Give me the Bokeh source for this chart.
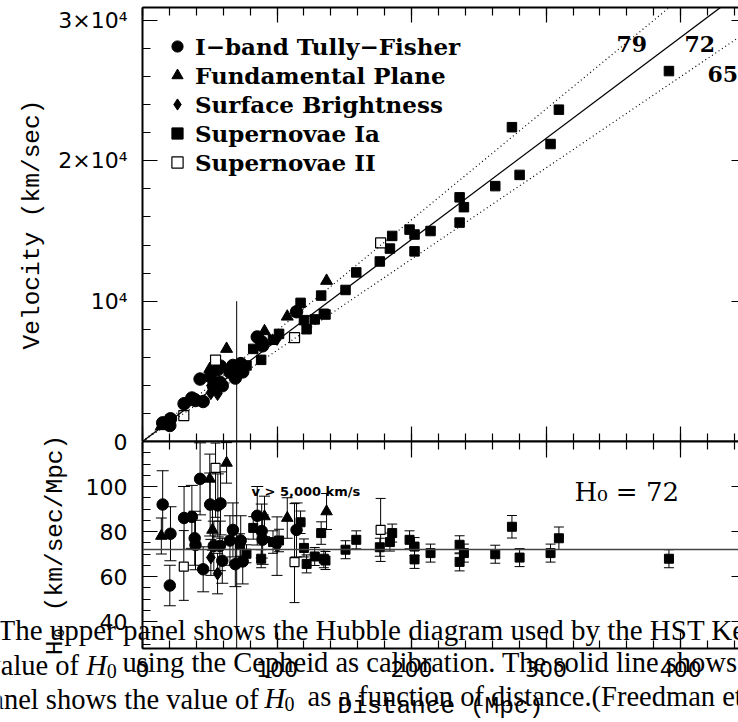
from bokeh.plotting import figure
from bokeh.models import (Range1d, FixedTicker, LinearAxis, Legend, LegendItem, Label,
                          Whisker, TeeHead, Span, Slope, ColumnDataSource, CustomLabelingPolicy)
from bokeh.layouts import column
from bokeh.embed import file_html
from bokeh.resources import INLINE

# ---------------- data ----------------
# I-band Tully-Fisher (circles)
tf_d = [15.0, 20.8, 20.3, 30.9, 36.7, 38.8, 39.4, 42.8, 45.1, 50.3, 56.0, 58.0,
        53.0, 57.5, 59.3, 67.2, 65.0, 69.0, 73.0, 74.5, 85.3, 88.6, 89.3, 114.5]
tf_v = [1330, 1620, 1140, 2690, 3100, 2990, 2920, 4450, 2850, 4620, 5140, 5370,
        3900, 4230, 3970, 5420, 4940, 4520, 5550, 4960, 7450, 7100, 6820, 9250]
tf_h0 = [92, 79, 56, 86, 86.5, 77, 74, 103.4, 63.2, 92, 91.6, 92.5,
         73.6, 73.6, 67, 80.7, 76, 65.5, 76, 66.7, 87, 80.2, 76.4, 80.7]
tf_err = [15, 12, 9, 14, 14, 12, 11, 16, 10, 14, 14, 14,
          11, 11, 10, 12, 11, 10, 11, 10, 13, 12, 11, 12]

# Fundamental Plane (triangles)
fp_d = [14.0, 50.0, 62.5, 52.0, 90.7, 107.6, 136.8]
fp_v = [1090, 5170, 6600, 4200, 7860, 8900, 11450]
fp_h0 = [78, 103.4, 110.5, 80.7, 86.7, 86, 88.9]
fp_err = [8, 11, 9, 9, 9, 9, 8]

# Surface Brightness (diamonds)
sbf_d = [50.8, 55.8, 100.0]
sbf_v = [3480, 3420, 7350]
sbf_h0 = [68.5, 61.3, 73.5]
sbf_err = [8, 9, 13]

# Supernovae Ia (filled squares)
sn_d = [72.5, 77.3, 82.3, 88.2, 97.0, 101.5, 117.5, 120.0, 122.0, 128.0, 132.8,
        134.8, 136.0, 150.9, 158.9, 176.4, 183.9, 185.6, 198.5, 202.2, 202.2,
        214.1, 235.7, 238.9, 235.7, 262.2, 274.6, 280.3, 303.3, 309.5, 391.3]
sn_v = [5370, 5420, 6600, 5820, 7250, 7670, 9880, 8650, 8000, 8700, 10400,
        9100, 9050, 10800, 12050, 12830, 13750, 14650, 15100, 14750, 13550,
        15000, 17400, 16700, 15600, 18200, 22400, 19000, 21200, 23650, 26400]
sn_h0 = [74, 70.1, 81.6, 67.9, 75.3, 76, 84.1, 72.7, 65.6, 68.9, 79.3,
         67.9, 67.1, 71.9, 76.3, 73, 75.3, 79.3, 76.3, 73.3, 67.6,
         70.4, 74.1, 70.4, 66.5, 69.9, 82.1, 68.4, 70.4, 77, 67.9]
sn_err = [5, 4, 5, 4, 5, 5, 5, 4, 4, 4, 5,
          4, 4, 4, 4, 4, 4, 4, 4, 4, 4,
          4, 4, 4, 4, 4, 5, 4, 4, 5, 4]

# Supernovae II (open squares)
s2_d = [30.7, 54.3, 113.0, 177.0]
s2_v = [1850, 5800, 7400, 14150]
s2_h0 = [64.4, 108.3, 66.4, 80.7]
s2_err_hi = [16, 11, 26, 14]
s2_err_lo = [15, 22, 18, 14]

# model lines / markers
H0_FIT, H0_HIGH, H0_LOW = 72, 79, 65
D_CUT = 70            # Mpc, where v ~ 5,000 km/s
V_CUT_TOP = 10000     # top of the cut line in the upper panel

x_major = [0, 100, 200, 300, 400]
x_minor = list(range(0, 441, 20))
v_major = [0, 10000, 20000, 30000]
v_minor = list(range(0, 30001, 2000))
v_labels = {0: "", 10000: "10⁴", 20000: "2×10⁴", 30000: "3×10⁴"}
h_major = [40, 60, 80, 100, 120]
h_minor = list(range(30, 121, 5))
h_labels = {40: "40", 60: "60", 80: "80", 100: "100", 120: "0"}

legend_labels = ["I−band Tully−Fisher", "Fundamental Plane", "Surface Brightness",
                 "Supernovae Ia", "Supernovae II"]

caption_parts = [
    # text, left x (px), baseline y (px), style, size
    ("The upper panel shows the Hubble diagram used by the HST Key", -3, 629, "normal", "29px"),
    ("value of", -14, 665, "normal", "28.5px"),
    ("H", 85.7, 665, "italic", "28.5px"),
    ("0", 106.3, 670, "normal", "20px"),
    ("using the Cepheid as calibration. The solid line shows", 122, 662, "normal", "28.5px"),
    ("panel shows the value of", -23.5, 699, "normal", "28.5px"),
    ("H", 264, 698, "italic", "28.5px"),
    ("0", 284, 703, "normal", "20px"),
    ("as a function of distance.(Freedman et al. 2001)", 307, 696, "normal", "28.5px"),
]

# ---------------- layout constants ----------------
PAGE_W = 738
PAGE_H = 722
FRAME_LEFT = 142
FRAME_W = PAGE_W - FRAME_LEFT
TOP1 = 7
MID = 441
FRAME1_H = MID - TOP1
OVERLAP = 10
FRAME2_H = 207
BOTTOM2 = PAGE_H - MID - FRAME2_H
CAP_H = 130

X_MAX = 443.0
V_MAX = 30930.0
H_MIN, H_MAX = 28.0, 120.0


def px_to_d(px):
    return (px - FRAME_LEFT) * X_MAX / FRAME_W


def py_to_v(py):
    return (MID - py) * V_MAX / FRAME1_H


def py_to_h(py):
    return H_MAX - (py - MID) * (H_MAX - H_MIN) / FRAME2_H


NO_LABELS = "for (let i = 0; i < indices.size; i++) { indices.unset(i) }\nreturn indices"


def make_axis(ticks, minor, tin, minor_in, overrides=None, line=True, standoff=15):
    ax = LinearAxis(ticker=FixedTicker(ticks=ticks, minor_ticks=minor))
    ax.major_tick_in = tin
    ax.major_tick_out = 0
    ax.minor_tick_in = minor_in
    ax.minor_tick_out = 0
    ax.major_tick_line_width = 1.2
    ax.minor_tick_line_width = 1.2
    ax.major_tick_line_color = "black"
    ax.minor_tick_line_color = "black" if minor_in else None
    ax.axis_line_width = 2
    ax.axis_line_color = "black" if line else None
    if overrides is None:
        ax.major_label_text_font_size = "0px"
        ax.major_label_standoff = 0
        ax.major_label_policy = CustomLabelingPolicy(code=NO_LABELS)
    else:
        ax.major_label_overrides = overrides
        ax.major_label_text_font = "DejaVu Sans"
        ax.major_label_text_font_size = "22px"
        ax.major_label_text_color = "black"
        ax.major_label_standoff = standoff
    ax.axis_label_text_font = "Liberation Mono"
    ax.axis_label_text_font_size = "24.5px"
    ax.axis_label_text_font_style = "normal"
    ax.axis_label_text_color = "black"
    return ax


def no_align(p):
    if "frame_align" in p.properties():
        p.frame_align = False


# ---------------- upper panel ----------------
p1 = figure(width=PAGE_W, height=MID, x_range=Range1d(0, X_MAX), y_range=Range1d(0, V_MAX),
            output_backend="svg", toolbar_location=None, title=None,
            x_axis_location=None, y_axis_location=None,
            min_border_left=FRAME_LEFT, min_border_right=0,
            min_border_top=TOP1, min_border_bottom=0)
p1.outline_line_color = None
p1.grid.visible = False
no_align(p1)

axl = make_axis(v_major, v_minor, 15, 8, overrides=v_labels)
axl.axis_label = "Velocity (km/sec)"
axl.axis_label_standoff = 9
p1.add_layout(axl, "left")
p1.add_layout(make_axis(x_major, x_minor, 15, 8), "above")
p1.add_layout(make_axis(x_major, x_minor, 15, 8), "below")
p1.add_layout(make_axis(v_major, [], 7, 0, line=False), "right")

p1.add_layout(Slope(gradient=H0_FIT, y_intercept=0, line_color="black", line_width=1.3))
p1.add_layout(Slope(gradient=H0_HIGH, y_intercept=0, line_color="black", line_width=1.2,
                    line_dash="1 3"))
p1.add_layout(Slope(gradient=H0_LOW, y_intercept=0, line_color="black", line_width=1.2,
                    line_dash="1 3"))
p1.segment(x0=[D_CUT], y0=[0], x1=[D_CUT], y1=[V_CUT_TOP], line_color="black", line_width=1)

r_tf = p1.scatter(tf_d, tf_v, marker="circle", size=12.5, color="black")
r_fp = p1.scatter(fp_d, fp_v, marker="triangle", size=12, color="black")
r_sbf = p1.scatter(sbf_d, sbf_v, marker="diamond", size=14, color="black")
r_sn = p1.scatter(sn_d, sn_v, marker="square", size=9.5, color="black")
r_s2 = p1.scatter(s2_d, s2_v, marker="square", size=10, fill_color="white",
                  line_color="black", line_width=1.2)

legend = Legend(items=[LegendItem(label=lab, renderers=[r]) for lab, r in
                       zip(legend_labels, [r_tf, r_fp, r_sbf, r_sn, r_s2])],
                location=(20, 265), orientation="vertical",
                glyph_width=30, glyph_height=28, label_height=28, spacing=1,
                padding=0, margin=0, label_standoff=3,
                background_fill_alpha=0, border_line_alpha=0,
                label_text_font="DejaVu Serif", label_text_font_style="bold",
                label_text_font_size="23px", label_text_color="black")
p1.add_layout(legend)

for txt, px, py in [(str(H0_HIGH), 616, 43), (str(H0_FIT), 684, 43), (str(H0_LOW), 707, 73)]:
    p1.add_layout(Label(x=px_to_d(px), y=py_to_v(py), text=txt, text_font="DejaVu Serif",
                        text_font_style="bold", text_font_size="22px", text_color="black",
                        text_baseline="alphabetic", text_align="left"))

# ---------------- lower panel ----------------
p2 = figure(width=PAGE_W, height=OVERLAP + FRAME2_H + BOTTOM2,
            x_range=Range1d(0, X_MAX), y_range=Range1d(H_MIN, H_MAX),
            output_backend="svg", toolbar_location=None, title=None,
            x_axis_location=None, y_axis_location=None,
            min_border_left=FRAME_LEFT, min_border_right=0,
            min_border_top=OVERLAP, min_border_bottom=BOTTOM2,
            margin=(-OVERLAP, 0, 0, 0))
p2.outline_line_color = None
p2.grid.visible = False
p2.background_fill_alpha = 0
p2.border_fill_alpha = 0
no_align(p2)

axl2 = make_axis(h_major, h_minor, 15, 8, overrides=h_labels)
axl2.axis_label = "H₀ (km/sec/Mpc)"
axl2.axis_label_standoff = 14
p2.add_layout(axl2, "left")
p2.add_layout(make_axis(x_major, x_minor, 16, 8), "above")
axb = make_axis(x_major, x_minor, 16, 8, overrides={}, standoff=12)
axb.axis_label = "Distance (Mpc)"
axb.axis_label_standoff = 13
p2.add_layout(axb, "below")
p2.add_layout(make_axis(h_major, [], 7, 0, line=False), "right")

p2.add_layout(Span(location=H0_FIT, dimension="width", line_color="#444444", line_width=1.5))
p2.add_layout(Span(location=D_CUT, dimension="height", line_color="black", line_width=1))


def add_errors(d, h, lo_err, hi_err, cap):
    src = ColumnDataSource(dict(d=d, lo=[a - b for a, b in zip(h, lo_err)],
                                hi=[a + b for a, b in zip(h, hi_err)]))
    p2.add_layout(Whisker(source=src, base="d", lower="lo", upper="hi", dimension="height",
                          line_color="black", line_width=1,
                          upper_head=TeeHead(size=cap, line_color="black", line_width=1),
                          lower_head=TeeHead(size=cap, line_color="black", line_width=1)))


add_errors(tf_d, tf_h0, tf_err, tf_err, 12)
add_errors(fp_d, fp_h0, fp_err, fp_err, 11)
add_errors(sbf_d, sbf_h0, sbf_err, sbf_err, 11)
add_errors(sn_d, sn_h0, sn_err, sn_err, 10)
add_errors(s2_d, s2_h0, s2_err_lo, s2_err_hi, 10)

p2.scatter(tf_d, tf_h0, marker="circle", size=11.5, color="black")
p2.scatter(fp_d, fp_h0, marker="triangle", size=11.5, color="black")
p2.scatter(sbf_d, sbf_h0, marker="diamond", size=13, color="black")
p2.scatter(sn_d, sn_h0, marker="square", size=9, color="black")
p2.scatter(s2_d, s2_h0, marker="square", size=9, fill_color="white",
           line_color="black", line_width=1.2)

p2.add_layout(Label(x=px_to_d(574), y=py_to_h(491), text="H₀ = 72", text_font="DejaVu Serif",
                    text_font_size="26px", text_color="black", text_baseline="alphabetic"))
p2.add_layout(Label(x=px_to_d(251), y=py_to_h(491), text="v > 5,000 km/s",
                    text_font="DejaVu Sans", text_font_style="bold", text_font_size="13px",
                    text_color="black", text_baseline="alphabetic"))

# ---------------- caption overlay (text over the bottom of the figure) ----------------
p3 = figure(width=PAGE_W, height=CAP_H,
            x_range=Range1d(0, PAGE_W), y_range=Range1d(PAGE_H, PAGE_H - CAP_H),
            output_backend="svg", toolbar_location=None, title=None,
            x_axis_location=None, y_axis_location=None,
            min_border_left=0, min_border_right=0, min_border_top=0, min_border_bottom=0,
            margin=(-CAP_H, 0, 0, 0))
p3.outline_line_color = None
p3.grid.visible = False
p3.background_fill_alpha = 0
p3.border_fill_alpha = 0
no_align(p3)

for txt, px, py, style, size in caption_parts:
    p3.add_layout(Label(x=px, y=py, text=txt, text_font="Liberation Serif",
                        text_font_style=style, text_font_size=size, text_color="black",
                        text_baseline="alphabetic", text_align="left"))

layout = column(p1, p2, p3)
open("out.html", "w").write(file_html(layout, INLINE))
